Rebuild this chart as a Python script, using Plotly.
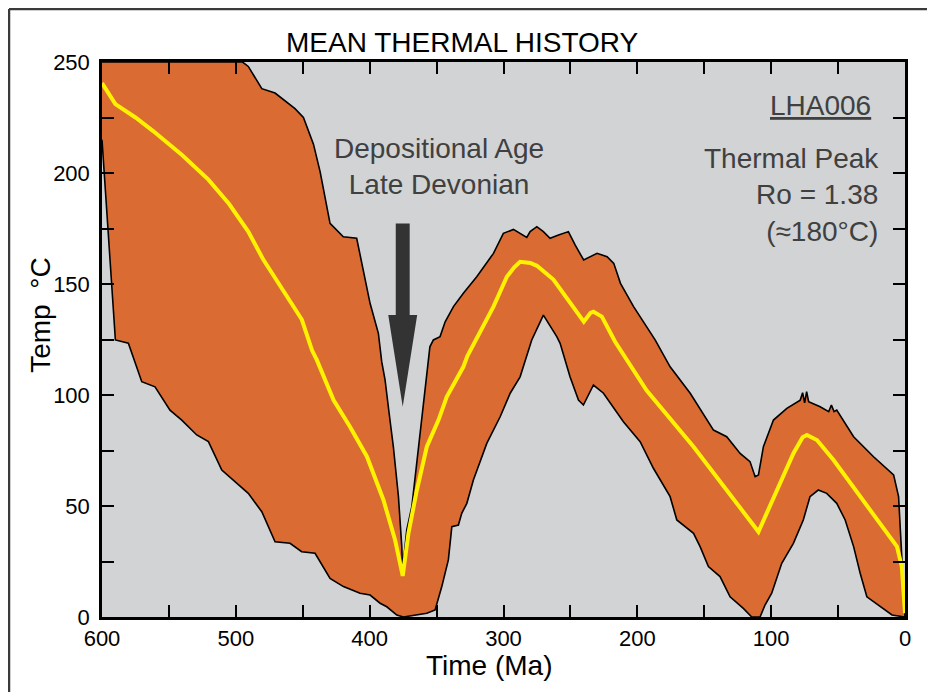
import plotly.graph_objects as go

# ---------------- data (Time in Ma, Temperature in °C) ----------------
upper_t = [600, 495, 490.7, 480.6, 470.7, 455.8, 449.5, 442, 437, 429.6, 419.7, 409.7,
           399.7, 393.5, 391, 388.5, 385.5, 382.3, 378.5, 376, 375.4,
           372.3, 368.5, 364.8, 361.1, 357.3, 355, 352.4, 347.4, 343.6, 337.4, 330, 320,
           307.5, 300.1, 292.6, 286.3, 282.6, 280.1, 275.1, 270.2, 265.2, 258.9, 251.5,
           246.5, 240.1, 230.1, 222.6, 217.6, 212.6, 202.8, 186.7, 175.5, 160.5, 143.1,
           133.2, 123.2, 115.8, 112, 109.5, 105.8, 98.3, 88.3, 78.3, 76.5, 75, 73.5, 72,
           63.4, 57, 55, 53, 51, 38.4, 23.5, 8.5, 4.8, 1.1, 0]
upper_T = [250, 250, 248, 238, 236, 229, 225, 213, 200.5, 177.3, 171.3, 170.6,
           141.3, 127.8, 115, 106.8, 92, 76.7, 54.2, 31.7, 21,
           39.2, 49.7, 69.2, 87.2, 106.8, 121.7, 124.8, 126.3, 133, 139.8, 145.8, 153.3,
           163.8, 172.8, 174.6, 172.5, 171, 173.6, 175.8, 173.6, 170.6, 172.1, 173.6,
           167.6, 160.8, 163.8, 162.3, 159.3, 150.3, 139.8, 124.8, 112.7, 100.8, 84.2,
           81.2, 73.7, 70, 63.2, 64, 76.7, 88.7, 94, 97.7, 101, 96.5, 101.5, 97,
           94.7, 92.5, 95.5, 92.5, 93.2, 81.2, 72.2, 64, 54.2, 10.7, 0]

lower_t = [600, 590, 580.3, 570.3, 560.4, 549.2, 540.4, 529.2, 520.5, 510.5, 490.7,
           480.6, 470.7, 459.5, 450.8, 440.8, 429.6, 419.6, 407.2, 399.7, 392.2, 387.2,
           379.7, 374.8, 357.3, 351.1, 346.1, 341.2, 338.6, 333.7, 331.2, 327.4, 322.5,
           312.5, 302.5, 295, 287.6, 278.9, 270.2, 260.2, 257.7, 250.3, 244, 240.3,
           232.8, 225.3, 210.4, 197.9, 188, 175.5, 170.5, 158, 153.1, 146.9, 138.2,
           130.7, 120.8, 114.5, 108.3, 104.6, 99.6, 92.1, 83.4, 76, 71, 64.8, 58.5,
           51, 44.7, 38.4, 33.5, 28.5, 18.5, 9.7, 0]
lower_T = [215, 124.8, 123.3, 106, 103.7, 93.2, 88.7, 82, 79, 66.2, 55.7,
           47.4, 33.9, 33.2, 29.4, 28.7, 17.4, 13.7, 10.7, 9.9, 6.2, 4.6,
           0.9, 0, 1.7, 3.2, 13.7, 25.7, 40.7, 41.4, 46.7, 51.2, 61.7,
           78.2, 90.2, 100.8, 108.2, 124.8, 136, 126.3, 123.3, 108.2, 97.7, 95.5,
           104.5, 100.8, 88, 79, 67, 54.2, 43.7, 37.7, 31.7, 22.7, 18.2,
           9.1, 3.9, 0, 0, 5.4, 10.7, 24.2, 33.2, 43.7, 54.2, 57.2, 55.7,
           51.2, 43.7, 31.7, 19.7, 9.1, 4.6, 0.9, 0]

mean_t = [600, 590, 575, 562, 540, 520.5, 505, 490.7, 479.5, 465, 450.7, 443, 439.5,
          427, 414.7, 402, 389.7, 381, 375.3, 371, 364.8, 357.3, 348.6, 342.4, 330,
          327, 307.5, 297.5, 292, 287.6, 280, 275, 265, 262.7, 240, 235, 232.8, 226.5,
          216.6, 193, 158, 109.5, 83.4, 76.5, 73.3, 65.8, 53.4, 6, 2.4, 0]
mean_T = [240.5, 231, 225, 219, 208, 197, 186, 173.6, 161, 147, 134, 120, 115.8,
          97.7, 85.7, 72.2, 52.7, 34.7, 18.5, 37.8, 57, 76.7, 88.7, 99.2, 112.7,
          117.5, 139.8, 153.3, 157.5, 160, 159.5, 158.2, 153.3, 152, 133, 137, 137.5, 135.3,
          124, 102, 76.7, 38.4, 73.7, 81, 82, 79.7, 70.7, 31.7, 22.7, 1.7]

x_tickvals = list(range(600, -1, -50))
x_ticktext = [str(v) if v % 100 == 0 else "" for v in x_tickvals]
y_tickvals = list(range(0, 251, 25))
y_ticktext = [str(v) if v % 50 == 0 else "" for v in y_tickvals]

# ---------------- styles ----------------
FONT = "Arial, 'Liberation Sans', sans-serif"
ORANGE = "#D96B33"
GRAY_BG = "#D1D3D4"
YELLOW = "#FFF200"
TEXT_GRAY = "#404040"
ARROW_GRAY = "#333333"
FRAME = "#3a3a3a"

fig = go.Figure()

# envelope band (closed polygon: upper from old to young, lower back)
fig.add_trace(go.Scatter(
    x=upper_t + lower_t[::-1],
    y=upper_T + lower_T[::-1],
    mode="lines", fill="toself", fillcolor=ORANGE,
    line=dict(color="black", width=1.6), hoverinfo="skip", showlegend=False))

# mean path
fig.add_trace(go.Scatter(
    x=mean_t, y=mean_T, mode="lines",
    line=dict(color=YELLOW, width=4), showlegend=False))

# arrow for depositional age
arrow_t, arrow_top, arrow_neck, arrow_tip = 375.3, 177.3, 136, 94.7
shaft_hw, head_hw = 5.2, 10.8
arrow_path = (f"M {arrow_t+shaft_hw},{arrow_top} L {arrow_t-shaft_hw},{arrow_top} "
              f"L {arrow_t-shaft_hw},{arrow_neck} L {arrow_t-head_hw},{arrow_neck} "
              f"L {arrow_t},{arrow_tip} L {arrow_t+head_hw},{arrow_neck} "
              f"L {arrow_t+shaft_hw},{arrow_neck} Z")
fig.add_shape(type="path", path=arrow_path, xref="x", yref="y",
              fillcolor=ARROW_GRAY, line=dict(width=0), layer="above")

# outer frame: only the top and left edges show on the page
frame_common = dict(type="line", xref="paper", yref="paper",
                    xsizemode="pixel", ysizemode="pixel", xanchor=0, yanchor=0,
                    line=dict(color=FRAME, width=2.5), layer="below")
fig.add_shape(x0=-93, x1=-93, y0=-200, y1=608, **frame_common)
fig.add_shape(x0=-93, x1=1000, y0=608, y1=608, **frame_common)

ann = []
ann.append(dict(text="MEAN THERMAL HISTORY", xref="paper", yref="paper",
                x=0.448, y=1.036, xanchor="center", yanchor="middle",
                showarrow=False, font=dict(family=FONT, size=28, color="black")))
ann.append(dict(text="Depositional Age<br>Late Devonian", xref="paper", yref="paper",
                x=0.4197, y=0.811, xanchor="center", yanchor="middle", align="center",
                showarrow=False, font=dict(family=FONT, size=28, color=TEXT_GRAY)))
ann.append(dict(text="<u>LHA006</u>", xref="paper", yref="paper",
                x=0.9605, y=0.922, xanchor="right", yanchor="middle",
                showarrow=False, font=dict(family=FONT, size=28, color=TEXT_GRAY)))
ann.append(dict(text="Thermal Peak<br>Ro = 1.38<br>(≈180°C)", xref="paper", yref="paper",
                x=0.97, y=0.761, xanchor="right", yanchor="middle", align="right",
                showarrow=False, font=dict(family=FONT, size=28, color=TEXT_GRAY)))
ann.append(dict(text="Time (Ma)", xref="paper", yref="paper",
                x=0.483, y=-0.0865, xanchor="center", yanchor="middle",
                showarrow=False, font=dict(family=FONT, size=28, color="black")))
ann.append(dict(text="Temp\u00a0\u00a0°C", xref="paper", yref="paper", textangle=-90,
                x=-0.077, y=0.543, xanchor="center", yanchor="middle",
                showarrow=False, font=dict(family=FONT, size=28, color="black")))

fig.update_layout(
    width=919, height=684, autosize=False,
    margin=dict(l=94, r=22, t=54, b=75),
    paper_bgcolor="white", plot_bgcolor=GRAY_BG,
    showlegend=False, annotations=ann,
    font=dict(family=FONT, color="black"),
)
fig.update_xaxes(range=[600, 0], tickvals=x_tickvals, ticktext=x_ticktext,
                 ticks="inside", ticklen=12, tickwidth=1.5, tickcolor="black",
                 showline=True, linewidth=2.5, linecolor="black", mirror="ticks",
                 showgrid=False, zeroline=False,
                 tickfont=dict(family=FONT, size=22, color="black"))
fig.update_yaxes(range=[0, 250], tickvals=y_tickvals, ticktext=y_ticktext,
                 ticks="inside", ticklen=12, tickwidth=1.5, tickcolor="black",
                 showline=True, linewidth=2.5, linecolor="black", mirror="ticks",
                 showgrid=False, zeroline=False, ticklabelstandoff=5,
                 tickfont=dict(family=FONT, size=22, color="black"))

fig.write_html("out.html", config={"displayModeBar": False})
